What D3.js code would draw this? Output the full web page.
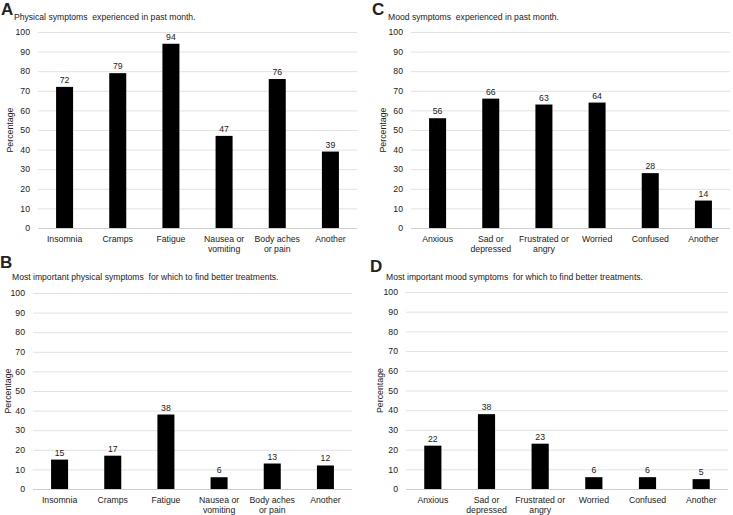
<!DOCTYPE html>
<html><head><meta charset="utf-8">
<script src="https://cdn.jsdelivr.net/npm/d3@7"></script>
<style>
html,body{margin:0;padding:0;background:#fff;}
svg text{font-family:"Liberation Sans",Arial,sans-serif;fill:#222;}
</style></head>
<body><svg id="c" width="733" height="515"></svg>
<script>
const physicalCategories = ["Insomnia","Cramps","Fatigue","Nausea or|vomiting","Body aches|or pain","Another"];
const moodCategories = ["Anxious","Sad or|depressed","Frustrated or|angry","Worried","Confused","Another"];
const physicalPastMonth = [72,79,94,47,76,39];
const physicalImportant = [15,17,38,6,13,12];
const moodPastMonth = [56,66,63,64,28,14];
const moodImportant = [22,38,23,6,6,5];
const yTicks = [0,10,20,30,40,50,60,70,80,90,100];
const yTitle = "Percentage";
const panelLetters = ["A","B","C","D"];
const panelTitles = [
  "Physical symptoms  experienced in past month.",
  "Most important physical symptoms  for which to find better treatments.",
  "Mood symptoms  experienced in past month.",
  "Most important mood symptoms  for which to find better treatments."
];

const panels = [
  {cats:physicalCategories, vals:physicalPastMonth, x0:38, x1:357, yT:32, yB:228, lx:1, ly:15, tx:14, ty:20, ytx:10},
  {cats:physicalCategories, vals:physicalImportant, x0:33, x1:352, yT:293, yB:489, lx:0, ly:268, tx:12, ty:280, ytx:8},
  {cats:moodCategories, vals:moodPastMonth, x0:411, x1:730, yT:32, yB:228, lx:372, ly:15, tx:388, ty:20, ytx:383},
  {cats:moodCategories, vals:moodImportant, x0:406, x1:728, yT:292, yB:489, lx:370, ly:272, tx:386, ty:280, ytx:380}
];

const svg = d3.select("#c");
const fs = 8.7;

panels.forEach((p,i)=>{
  const g = svg.append("g");
  const x = d3.scaleBand().domain(p.cats).range([p.x0,p.x1]).paddingInner(0.68).paddingOuter(0.34);
  const y = d3.scaleLinear().domain([0,100]).range([p.yB,p.yT]);

  // gridlines
  g.selectAll("line.grid").data(yTicks).join("line")
    .attr("x1",p.x0).attr("x2",p.x1)
    .attr("y1",d=>y(d)+0.5).attr("y2",d=>y(d)+0.5)
    .attr("stroke",d=>d===0?"#cfcfcf":"#e2e2e2").attr("stroke-width",1);

  // y axis tick labels
  const ya = d3.axisLeft(y).tickValues(yTicks).tickSize(0).tickPadding(8);
  const yg = g.append("g").attr("transform",`translate(${p.x0},0)`).call(ya);
  yg.select(".domain").remove();
  yg.selectAll("text").style("font-size",fs+"px").style("font-family","Liberation Sans, Arial, sans-serif").attr("fill","#222");

  // x axis labels
  const xa = d3.axisBottom(x).tickSize(0).tickPadding(0).tickFormat("");
  const xg = g.append("g").attr("transform",`translate(0,${p.yB})`).call(xa);
  xg.select(".domain").remove();
  xg.selectAll(".tick").each(function(d){
    const t = d3.select(this).append("text").attr("text-anchor","middle").attr("fill","#222")
      .style("font-size",fs+"px");
    d.split("|").forEach((line,k)=>{
      t.append("tspan").attr("x",0).attr("y",14+k*10).text(line);
    });
  });

  // bars
  g.selectAll("rect.bar").data(p.vals).join("rect")
    .attr("x",(d,k)=>x(p.cats[k])).attr("width",x.bandwidth())
    .attr("y",d=>y(d)).attr("height",d=>y(0)-y(d)).attr("fill","#000");

  // value labels
  g.selectAll("text.val").data(p.vals).join("text")
    .attr("x",(d,k)=>x(p.cats[k])+x.bandwidth()/2).attr("y",d=>y(d)-4)
    .attr("text-anchor","middle").style("font-size",fs+"px").text(d=>d);

  // y title
  g.append("text").attr("transform",`translate(${p.ytx+3},${(p.yT+p.yB)/2}) rotate(-90)`)
    .attr("text-anchor","middle").style("font-size","8.8px").text(yTitle);

  // letter & title
  g.append("text").attr("x",p.lx).attr("y",p.ly).style("font-size","17px").style("font-weight","bold").attr("fill","#000").text(panelLetters[i]);
  g.append("text").attr("x",p.tx).attr("y",p.ty).style("font-size","8.6px").attr("xml:space","preserve").style("white-space","pre").text(panelTitles[i]);
});
</script></body></html>
